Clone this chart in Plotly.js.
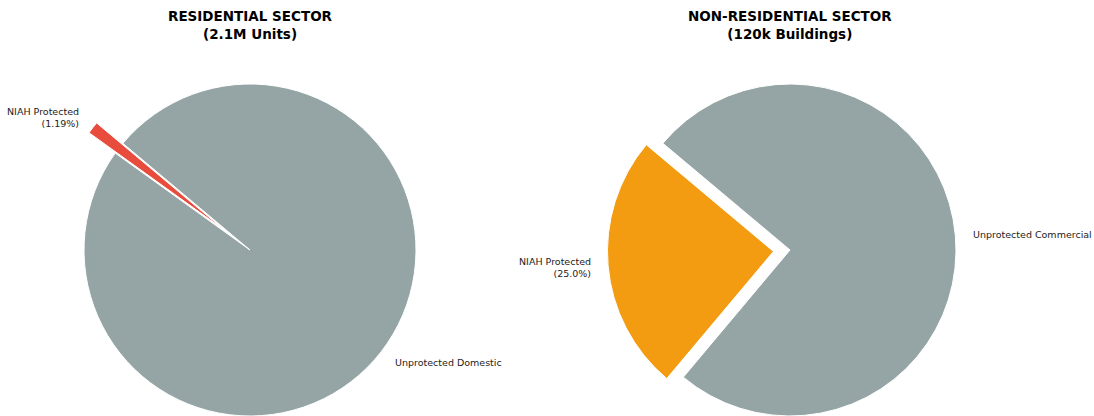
<!DOCTYPE html>
<html>
<head>
<meta charset="utf-8">
<script src="https://cdn.plot.ly/plotly-3.0.1.min.js"></script>
<style>
html, body { margin: 0; padding: 0; overflow: hidden; background: #fff; }
#chart { width: 1094px; height: 500px; }
</style>
</head>
<body>
<div id="chart"></div>
<script>
// ---- Data ----
const resTitle = ["RESIDENTIAL SECTOR", "(2.1M Units)"];
const resLabels = ["NIAH Protected", "Unprotected Domestic"];
const resValues = [1.19, 98.81];
const resPull = [0.2, 0];
const resColors = ["#e74c3c", "#95a5a6"];
const resDecimals = 2;

const nonResTitle = ["NON-RESIDENTIAL SECTOR", "(120k Buildings)"];
const nonResLabels = ["NIAH Protected", "Unprotected Commercial"];
const nonResValues = [25.0, 75.0];
const nonResPull = [0.1, 0];
const nonResColors = ["#f39c12", "#95a5a6"];
const nonResDecimals = 1;

// ---- Layout constants (pixels) ----
const W = 1094, H = 500;
const START = 140;          // start angle (deg, counterclockwise from 3 o'clock)
const R = 166;              // pie radius in px
const LABEL_DIST = 1.1;
const pies = [
  {cx: 250, cy: 250, title: resTitle, labels: resLabels, values: resValues, pull: resPull, colors: resColors, dec: resDecimals, showPct: [true, false]},
  {cx: 790, cy: 250, title: nonResTitle, labels: nonResLabels, values: nonResValues, pull: nonResPull, colors: nonResColors, dec: nonResDecimals, showPct: [true, false]}
];

const traces = [];
const annotations = [];
pies.forEach(p => {
  const maxPull = Math.max.apply(null, p.pull);
  const half = R * (1 + maxPull);  // half box size so Plotly radius = R
  const total = p.values.reduce((a, b) => a + b, 0);
  const firstDeg = 360 * p.values[0] / total;
  traces.push({
    type: 'pie',
    labels: p.labels,
    values: p.values,
    pull: p.pull,
    sort: false,
    direction: 'counterclockwise',
    rotation: 90 - START - firstDeg,
    marker: {colors: p.colors, line: {color: '#ffffff', width: 1}},
    textinfo: 'none',
    hoverinfo: 'label+percent',
    showlegend: false,
    domain: {
      x: [(p.cx - half) / W, (p.cx + half) / W],
      y: [1 - (p.cy + half) / H, 1 - (p.cy - half) / H]
    }
  });
  // titles
  annotations.push({
    xref: 'paper', yref: 'paper',
    x: p.cx / W, y: 1 - 25 / H,
    xanchor: 'center', yanchor: 'middle',
    text: '<b>' + p.title[0] + '</b><br><b>' + p.title[1] + '</b>',
    showarrow: false,
    font: {family: 'DejaVu Sans', size: 13.5, color: '#000'}
  });
  // slice labels
  let cum = 0;
  p.values.forEach((v, i) => {
    const mid = (START + 360 * (cum + v / 2) / total) * Math.PI / 180;
    cum += v;
    const d = (p.pull[i] + LABEL_DIST) * R;
    const px = p.cx + d * Math.cos(mid);
    const py = p.cy - d * Math.sin(mid);
    const pct = (100 * v / total).toFixed(p.dec) + '%';
    const txt = p.showPct[i] ? p.labels[i] + '<br>(' + pct + ')' : p.labels[i];
    const left = Math.cos(mid) < 0;
    annotations.push({
      xref: 'paper', yref: 'paper',
      x: px / W, y: 1 - py / H,
      xanchor: left ? 'right' : 'left',
      yanchor: 'middle',
      align: left ? 'right' : 'left',
      text: txt,
      showarrow: false,
      borderpad: 0,
      font: {family: 'DejaVu Sans', size: 9.5, color: '#222'}
    });
  });
});

const layout = {
  width: W, height: H,
  margin: {l: 0, r: 0, t: 0, b: 0},
  paper_bgcolor: '#ffffff',
  plot_bgcolor: '#ffffff',
  annotations: annotations,
  showlegend: false
};

Plotly.newPlot('chart', traces, layout, {displayModeBar: false, staticPlot: true});
</script>
</body>
</html>
